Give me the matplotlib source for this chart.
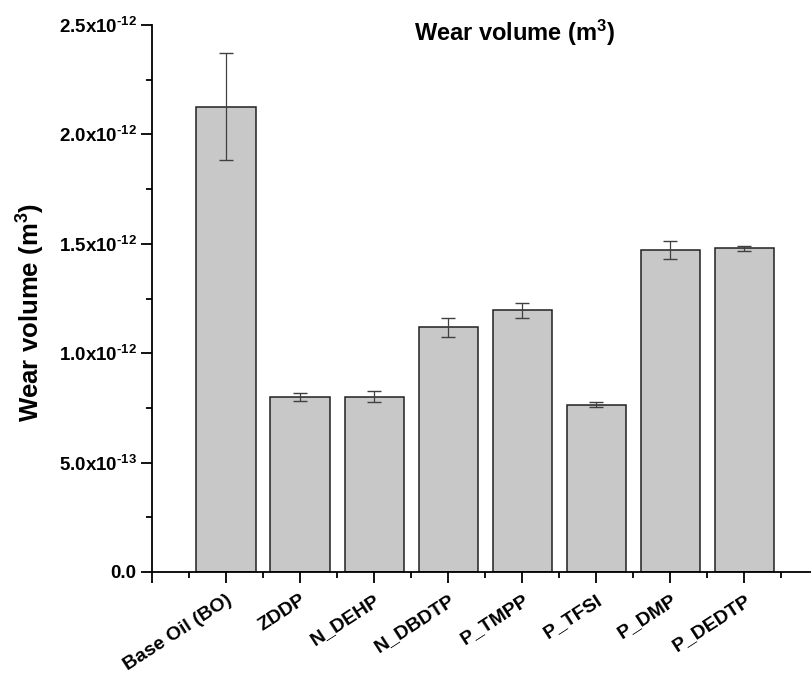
import numpy as np
import matplotlib
matplotlib.use('Agg')
import matplotlib.pyplot as plt
from matplotlib.ticker import FixedLocator, MultipleLocator

plt.rcParams['font.family'] = ['Liberation Sans', 'DejaVu Sans']
plt.rcParams['font.weight'] = 'bold'
plt.rcParams['mathtext.fontset'] = 'custom'
plt.rcParams['mathtext.rm'] = 'Liberation Sans:bold'
plt.rcParams['mathtext.bf'] = 'Liberation Sans:bold'
plt.rcParams['mathtext.default'] = 'rm'

# Wear volume per lubricant (m^3) and standard deviation
samples = ['Base Oil (BO)', 'ZDDP', 'N_DEHP', 'N_DBDTP', 'P_TMPP', 'P_TFSI', 'P_DMP', 'P_DEDTP']
wear = [2.126e-12, 0.800e-12, 0.800e-12, 1.118e-12, 1.197e-12, 0.764e-12, 1.473e-12, 1.479e-12]
wear_err = [0.245e-12, 0.020e-12, 0.025e-12, 0.042e-12, 0.034e-12, 0.012e-12, 0.042e-12, 0.012e-12]

ytick_vals = [0.0, 0.5e-12, 1.0e-12, 1.5e-12, 2.0e-12, 2.5e-12]
ytick_labels = ['0.0', r'5.0x10$^{\text{-}13}$', r'1.0x10$^{\text{-}12}$', r'1.5x10$^{\text{-}12}$',
                r'2.0x10$^{\text{-}12}$', r'2.5x10$^{\text{-}12}$']

fig = plt.figure(figsize=(8.11, 6.77), dpi=100)
ax = fig.add_axes([152 / 811, 1 - 572 / 677, (811 - 152) / 811, (572 - 25) / 677])

x = np.arange(1, len(samples) + 1)
ax.bar(x, wear, width=0.8, color='#c8c8c8', edgecolor='#202020', linewidth=1.1, zorder=2)
ax.errorbar(x, wear, yerr=wear_err, fmt='none', ecolor='#404040',
            elinewidth=0.9, capsize=5, capthick=1.0, zorder=3)

ax.set_xlim(0, 8.9)
ax.set_ylim(0, 2.5e-12)

ax.spines['top'].set_visible(False)
ax.spines['right'].set_visible(False)
ax.spines['left'].set_linewidth(1.3)
ax.spines['bottom'].set_linewidth(1.3)

ax.xaxis.set_major_locator(FixedLocator(np.arange(0, len(samples) + 1)))
ax.set_xticklabels([''] + samples, rotation=33, ha='right', va='top',
                   rotation_mode='anchor', fontsize=14, fontweight='bold')
ax.xaxis.set_minor_locator(FixedLocator(np.arange(0.5, len(samples) + 1, 1.0)))

ax.yaxis.set_major_locator(FixedLocator(ytick_vals))
ax.set_yticklabels(ytick_labels, fontsize=13.5, fontweight='bold')
ax.yaxis.set_minor_locator(MultipleLocator(0.25e-12))

ax.tick_params(which='major', direction='out', length=8, width=1.3, pad=3)
ax.tick_params(which='minor', direction='out', length=4.5, width=1.3)
ax.tick_params(axis='x', which='major', pad=6)

ax.set_ylabel('Wear volume (m$^3$)', fontsize=18.5, fontweight='bold')
ax.yaxis.set_label_coords(-0.16, 0.475)
ax.text(4.9, 2.465e-12, 'Wear volume (m$^3$)', ha='center', va='center',
        fontsize=17, fontweight='bold')

fig.savefig('out.png', dpi=100)
